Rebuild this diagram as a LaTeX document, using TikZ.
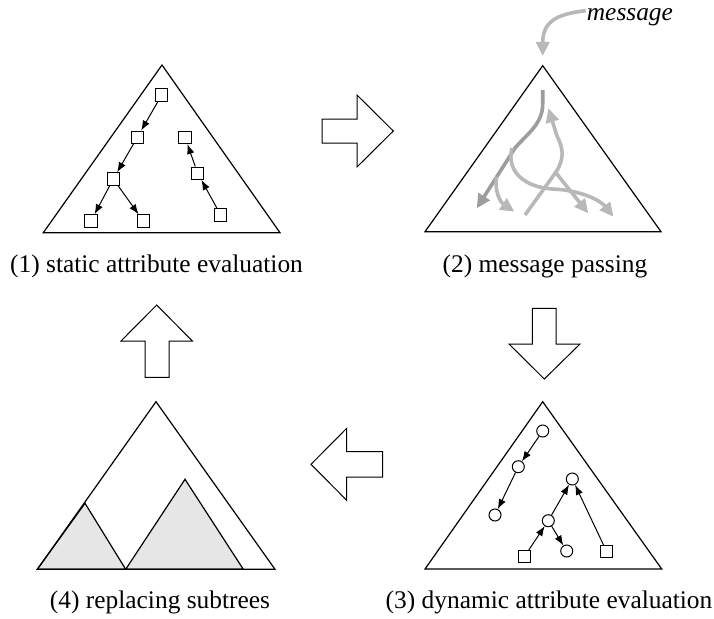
\documentclass[tikz,border=0pt]{standalone}
\usepackage{fontspec}
\setmainfont{Liberation Serif}
\usetikzlibrary{arrows.meta}
\definecolor{flowdark}{HTML}{9E9C9E}
\definecolor{flowlight}{HTML}{B9B7B9}
\definecolor{subtree}{HTML}{E6E6E6}
\tikzset{
  sq/.style={draw, fill=white, minimum size=12.5pt, inner sep=0pt, line width=1pt},
  cir/.style={draw, circle, fill=white, minimum size=12pt, inner sep=0pt, line width=1pt},
  dep/.style={-{Latex[length=10pt,width=7.5pt]}, line width=1pt},
  tri/.style={draw, line width=1.2pt, line join=miter},
  flow/.style={line width=3.6pt, -{Triangle[length=14pt,width=13pt]}},
  blockarrow/.style={draw, line width=1pt, fill=white, line join=miter},
  caption/.style={anchor=base, inner sep=0pt, font=\fontsize{25.4}{30}\selectfont},
}
\begin{document}
\begin{tikzpicture}[x=1pt, y=-1pt]
\useasboundingbox (0,0) rectangle (714,618);

% ---------- (1) static attribute evaluation ----------
\draw[tri] (162,65) -- (280,232.7) -- (43.3,232.7) -- cycle;
\node[sq] (s1) at (161.7,95) {};
\node[sq] (s2) at (137.3,137.3) {};
\node[sq] (s3) at (113.3,179) {};
\node[sq] (s4) at (91,221) {};
\node[sq] (s5) at (143.3,221) {};
\node[sq] (s6) at (185,137.3) {};
\node[sq] (s7) at (197.7,173.3) {};
\node[sq] (s8) at (220.7,215) {};
\draw[dep] (s1) -- (s2);
\draw[dep] (s2) -- (s3);
\draw[dep] (s3) -- (s4);
\draw[dep] (s3) -- (s5);
\draw[dep] (s8) -- (s7);
\draw[dep] (s7) -- (s6);
\node[caption] (cap1) at (156.5,272) {(1) static attribute evaluation};

% ---------- (2) message passing ----------
\draw[tri] (542.7,65.7) -- (661,231.7) -- (425,231.7) -- cycle;
\node[anchor=base west, inner sep=0pt, font=\fontsize{25.4}{30}\selectfont\itshape] (msg) at (586.7,21) {message};
\coordinate (msgin) at (542.7,56);
\draw[flow, draw=flowlight] (msg.west) ++(-1,-7) .. controls (556,14) and (542.7,22) .. (msgin);
% downward flows
\draw[flow, draw=flowdark] (542.7,90) -- (542.7,104) .. controls (542.7,124) and (527,134) .. (515,148) -- (476.7,208.3);
\draw[flow, draw=flowlight] (496.7,176.7) .. controls (494,190) and (500,202) .. (514.5,211.7);
\draw[flow, draw=flowlight] (512,148) .. controls (506,172) and (525,187) .. (552,189) .. controls (580,190) and (600,200) .. (613.5,216.7);
% upward flow and its branch
\draw[flow, draw=flowlight] (525,215) -- (556,172) .. controls (565,158) and (563,148) .. (557,136) -- (548.3,108.3);
\draw[flow, draw=flowlight] (554.5,171) -- (588.3,213.3);
\node[caption] (cap2) at (545,272) {(2) message passing};

% ---------- (3) dynamic attribute evaluation ----------
\draw[tri] (542.7,401.7) -- (661.7,569) -- (425,569) -- cycle;
\node[cir] (c1) at (542.7,431) {};
\node[cir] (c2) at (518.3,466.7) {};
\node[cir] (c3) at (495,515) {};
\node[cir] (c4) at (572.3,479) {};
\node[cir] (c5) at (548.3,520.7) {};
\node[cir] (c6) at (566.7,551) {};
\node[sq] (q1) at (524.3,556.7) {};
\node[sq] (q2) at (606.7,551.7) {};
\draw[dep] (c1) -- (c2);
\draw[dep] (c2) -- (c3);
\draw[dep] (q1) -- (c5);
\draw[dep] (c5) -- (c4);
\draw[dep] (c5) -- (c6);
\draw[dep] (q2) -- (c4);
\node[caption] (cap3) at (549,608) {(3) dynamic attribute evaluation};

% ---------- (4) replacing subtrees ----------
\draw[tri, fill=subtree] (85,503.3) -- (125.7,569.3) -- (37.3,569.3) -- cycle;
\draw[tri, fill=subtree] (185,479.3) -- (243.3,569.3) -- (125.7,569.3) -- cycle;
\draw[tri] (156,401.7) -- (275,569.3) -- (37.3,569.3) -- cycle;
\node[caption] (cap4) at (160,608) {(4) replacing subtrees};

% ---------- block arrows between the stages ----------
\draw[blockarrow] (322,119) -- (357,119) -- (357,95) -- (393.3,131) -- (357,167) -- (357,143) -- (322,143) -- cycle;
\draw[blockarrow] (532.3,308.3) -- (556,308.3) -- (556,344) -- (580,344) -- (544.3,379) -- (509,344) -- (532.3,344) -- cycle;
\draw[blockarrow] (382.7,451.7) -- (346.7,451.7) -- (346.7,428.3) -- (311,464.3) -- (346.7,500.3) -- (346.7,477) -- (382.7,477) -- cycle;
\draw[blockarrow] (145,377.3) -- (145,341) -- (121,341) -- (156.7,305) -- (192.3,341) -- (169,341) -- (169,377.3) -- cycle;
\end{tikzpicture}
\end{document}
